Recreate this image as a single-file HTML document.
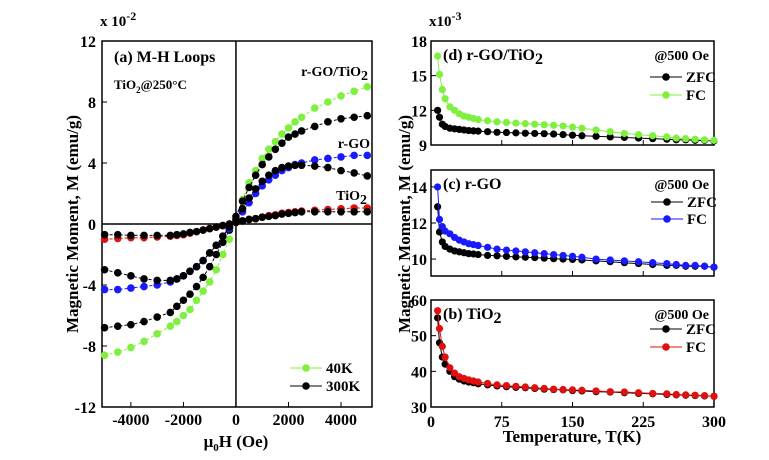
<!DOCTYPE html>
<html><head><meta charset="utf-8"><style>
body{margin:0;background:#fff}
svg{font-family:"Liberation Serif",serif;font-weight:bold}
</style></head><body>
<svg id="c" width="769" height="455" viewBox="0 0 769 455" xmlns="http://www.w3.org/2000/svg"></svg>
<script>
// ---- M-H loop data (x10^-2 emu/g) ----
const fieldOe = [-5000,-4500,-4000,-3500,-3000,-2500,-2250,-2000,-1750,-1500,-1250,-1000,-750,-500,-250,0,250,500,750,1000,1250,1500,1750,2000,2250,2500,3000,3500,4000,4500,5000];
const mGoTiO2_40K = [-8.6,-8.4,-8.1,-7.7,-7.2,-6.7,-6.4,-6.0,-5.6,-5.0,-4.4,-3.8,-3.0,-2.0,-1.0,0.3,1.6,2.7,3.5,4.3,4.9,5.4,5.9,6.3,6.7,7.0,7.6,8.0,8.4,8.7,9.0];
const mGoTiO2_300K = [-6.8,-6.7,-6.6,-6.4,-6.1,-5.8,-5.4,-5.0,-4.6,-4.1,-3.5,-2.8,-2.0,-1.2,-0.4,0.5,1.5,2.4,3.2,3.9,4.4,4.9,5.3,5.7,5.9,6.1,6.4,6.7,6.9,7.0,7.1];
const mGO_40K = [-4.3,-4.3,-4.2,-4.1,-4.0,-3.8,-3.6,-3.4,-3.1,-2.8,-2.4,-1.9,-1.4,-0.8,-0.3,0.2,0.8,1.4,2.0,2.5,2.9,3.2,3.5,3.7,3.9,4.0,4.2,4.3,4.4,4.5,4.5];
const mGO_300K = [-3.0,-3.2,-3.4,-3.6,-3.7,-3.7,-3.6,-3.4,-3.1,-2.8,-2.4,-1.9,-1.4,-0.8,-0.2,0.3,1.0,1.7,2.3,2.8,3.2,3.5,3.7,3.8,3.85,3.85,3.8,3.7,3.5,3.35,3.15];
const mTiO2_40K = [-1.0,-0.95,-0.9,-0.9,-0.85,-0.8,-0.75,-0.7,-0.6,-0.5,-0.4,-0.3,-0.2,-0.1,0,0.1,0.2,0.3,0.35,0.45,0.55,0.6,0.7,0.75,0.8,0.85,0.9,0.95,1.0,1.05,1.05];
const mTiO2_300K = [-0.7,-0.7,-0.75,-0.75,-0.75,-0.75,-0.7,-0.65,-0.55,-0.5,-0.4,-0.3,-0.2,-0.1,0,0.1,0.2,0.3,0.35,0.45,0.5,0.55,0.65,0.7,0.75,0.8,0.8,0.8,0.8,0.8,0.8];
const mhYTicks = [-12,-8,-4,0,4,8,12];
const mhXTicks = [-4000,-2000,0,2000,4000];
// ---- ZFC/FC data ----
const tempK = [7,9,12,15,20,25,30,35,40,45,50,60,70,80,90,100,110,120,130,140,150,160,175,190,205,220,235,250,260,270,280,290,300];
const dFC = [16.7,15.1,13.8,13.0,12.3,12.0,11.7,11.5,11.4,11.3,11.2,11.1,11.0,10.95,10.9,10.85,10.8,10.75,10.7,10.65,10.55,10.45,10.3,10.15,10.0,9.9,9.8,9.7,9.6,9.55,9.5,9.45,9.4];
const dZFC = [12.0,11.4,10.8,10.6,10.45,10.4,10.35,10.3,10.25,10.22,10.2,10.15,10.1,10.08,10.05,10.02,10.0,9.98,9.95,9.9,9.85,9.8,9.75,9.7,9.65,9.6,9.55,9.5,9.45,9.45,9.4,9.4,9.35];
const cFC = [14.0,12.2,11.8,11.55,11.4,11.2,11.05,10.95,10.85,10.8,10.75,10.65,10.55,10.5,10.45,10.4,10.35,10.3,10.25,10.2,10.15,10.1,10.0,9.95,9.9,9.85,9.8,9.75,9.7,9.65,9.65,9.6,9.55];
const cZFC = [12.9,11.5,10.95,10.7,10.55,10.45,10.4,10.35,10.3,10.28,10.25,10.2,10.18,10.15,10.12,10.1,10.08,10.05,10.02,10.0,9.98,9.95,9.9,9.85,9.8,9.75,9.7,9.65,9.65,9.6,9.6,9.6,9.55];
const bFC = [57,52,47,44,41,39.5,38.5,38,37.6,37.3,37,36.6,36.2,36,35.8,35.6,35.4,35.2,35.0,34.9,34.8,34.7,34.5,34.3,34.2,34.0,33.8,33.7,33.5,33.4,33.3,33.2,33.0];
const bZFC = [55,48,44,42,40,38.5,37.8,37.3,37,36.8,36.5,36.2,35.9,35.7,35.5,35.4,35.2,35.0,34.9,34.8,34.6,34.5,34.3,34.2,34.0,33.8,33.7,33.5,33.4,33.3,33.2,33.1,33.0];
const tTicks = [0,75,150,225,300];
const dTicks = [9,12,15,18];
const cTicks = [10,12,14];
const bTicks = [30,40,50,60];

const NS="http://www.w3.org/2000/svg";
const svg=document.getElementById('c');
function el(tag,attrs,parent){const e=document.createElementNS(NS,tag);for(const k in attrs)e.setAttribute(k,attrs[k]);(parent||svg).appendChild(e);return e;}
function txt(x,y,s,size,anchor,name){const t=el('text',{x:x,y:y,'font-size':size,'text-anchor':anchor||'start'});t.innerHTML=s;


return t;}
function lin(a0,a1,b0,b1){return v=>b0+(v-a0)*(b1-b0)/(a1-a0);}

function series(xs,ys,sx,sy,color,dash,name,r){
  const g=el('g',{});
  
  
  let d='';xs.forEach((x,i)=>{d+=(i?'L':'M')+sx(x).toFixed(1)+','+sy(ys[i]).toFixed(1);});
  el('path',{d:d,fill:'none',stroke:color,'stroke-width':1,'stroke-dasharray':dash||'none'},g);
  xs.forEach((x,i)=>{const c=el('circle',{cx:sx(x),cy:sy(ys[i]),r:r||3.8,fill:color},g);
    
    });
}
function legend(x,y,color,label,name){
  const g=el('g',{});
  
  
  el('line',{x1:x,y1:y,x2:x+32,y2:y,stroke:color,'stroke-width':1},g);
  el('circle',{cx:x+16,cy:y,r:3.8,fill:color},g);
  const t=el('text',{x:x+36,y:y+5,'font-size':15},g);t.textContent=label;
}

// ===== Left panel =====
const L=102,R=372,T=41,B=407;
const sx=lin(-5100,5180,L,R), sy=lin(-12,12,B,T);
const box=el('rect',{x:L,y:T,width:R-L,height:B-T,fill:'none',stroke:'#000','stroke-width':1.5});

el('line',{x1:L,y1:sy(0),x2:R,y2:sy(0),stroke:'#000','stroke-width':1.5});
el('line',{x1:sx(0),y1:T,x2:sx(0),y2:B,stroke:'#000','stroke-width':1.5});
mhYTicks.forEach(v=>{el('line',{x1:L,y1:sy(v),x2:L+5,y2:sy(v),stroke:'#000'});txt(L-6,sy(v)+6,String(v),16,'end','y-tick-label');});
mhXTicks.forEach(v=>{el('line',{x1:sx(v),y1:B,x2:sx(v),y2:B-5,stroke:'#000'});txt(sx(v),B+18,String(v),16,'middle','x-tick-label');});
txt(100,26,'x 10<tspan dy="-6" font-size="12">-2</tspan>',15,'start','y-scale-factor');
const yt=el('text',{x:0,y:0,'font-size':17,'text-anchor':'middle',transform:'translate(78,224) rotate(-90)'});yt.textContent='Magnetic Moment, M (emu/g)';

txt(236,447,'μ<tspan font-size="11" dy="4">0</tspan><tspan dy="-4">H (Oe)</tspan>',17,'middle','mh-x-axis-title');
txt(114,62,'(a) M-H Loops',16,'start','panel-a-title');
txt(114,89,'TiO<tspan font-size="9" dy="4">2</tspan><tspan dy="-4">@250°C</tspan>',13,'start','sample-label');
txt(368,76,'r-GO/TiO<tspan dy="4">2</tspan>',14,'end','label-rgo-tio2');
txt(370,148,'r-GO',14,'end','label-rgo');
txt(367,200,'TiO<tspan dy="4">2</tspan>',14,'end','label-tio2');
series(fieldOe,mGoTiO2_40K,sx,sy,'#80f040','3,2','rgo-tio2-40k');
series(fieldOe,mGoTiO2_300K,sx,sy,'#000','3,2','rgo-tio2-300k');
series(fieldOe,mGO_40K,sx,sy,'#1a1aff','3,2','rgo-40k');
series(fieldOe,mGO_300K,sx,sy,'#000','3,2','rgo-300k');
series(fieldOe,mTiO2_40K,sx,sy,'#e01010','3,2','tio2-40k');
series(fieldOe,mTiO2_300K,sx,sy,'#000','3,2','tio2-300k');
legend(290,368,'#80f040','40K','legend-40k');
legend(290,386,'#000','300K','legend-300k');

// ===== Right panels =====
const RL=431,RR=714;
const tx=lin(0,300,RL,RR);
function panel(top,bot,y0,y1,ticks,fc,zfc,fcColor,title,name){
  const py=lin(y0,y1,bot,top);
  const r=el('rect',{x:RL,y:top,width:RR-RL,height:bot-top,fill:'none',stroke:'#000','stroke-width':1.5});
  
  ticks.forEach(v=>{el('line',{x1:RL,y1:py(v),x2:RL+5,y2:py(v),stroke:'#000'});txt(RL-4,py(v)+6,String(v),16,'end',name+'-y-tick');});
  tTicks.forEach(v=>{el('line',{x1:tx(v),y1:bot,x2:tx(v),y2:bot-5,stroke:'#000'});});
  series(tempK,zfc,tx,py,'#000',null,name+'-zfc',3.6);
  series(tempK,fc,tx,py,fcColor,null,name+'-fc',3.6);
  txt(RL+12,top+19,title,16,'start',name+'-title');
  txt(RR-5,top+19,'@500 Oe',14,'end',name+'-field');
}
panel(41,145,9,18,dTicks,dFC,dZFC,'#80f040','(d) r-GO/TiO<tspan dy="4">2</tspan>','panel-d');
legend(650,77,'#000','ZFC','legend-d-zfc');legend(650,95,'#80f040','FC','legend-d-fc');
panel(170,276,9.06,14.94,cTicks,cFC,cZFC,'#1a1aff','(c)  r-GO','panel-c');
legend(651,202,'#000','ZFC','legend-c-zfc');legend(651,219,'#1a1aff','FC','legend-c-fc');
panel(300,407,30,60,bTicks,bFC,bZFC,'#e01010','(b) TiO<tspan dy="4">2</tspan>','panel-b');
legend(650,329,'#000','ZFC','legend-b-zfc');legend(650,347,'#e01010','FC','legend-b-fc');
tTicks.forEach(v=>txt(tx(v),427,String(v),16,'middle','t-tick-label'));
txt(572,442,'Temperature, T(K)',17,'middle','t-axis-title');
txt(429,26,'x10<tspan dy="-6" font-size="12">-3</tspan>',15,'start','right-scale-factor');
const yt2=el('text',{x:0,y:0,'font-size':17,'text-anchor':'middle',transform:'translate(410,224) rotate(-90)'});yt2.textContent='Magnetic Moment, M (emu/g)';

</script>
</body></html>
